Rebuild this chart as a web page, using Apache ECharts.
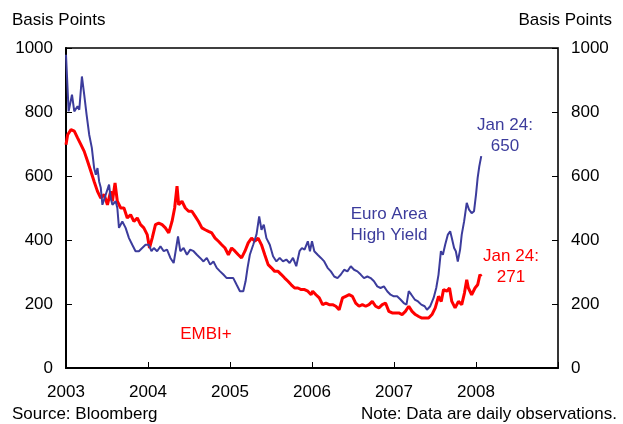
<!DOCTYPE html>
<html>
<head>
<meta charset="utf-8">
<script src="https://cdn.jsdelivr.net/npm/echarts@6/dist/echarts.min.js"></script>
<style>
  html, body { margin: 0; padding: 0; background: #fff; }
  #chart { width: 623px; height: 424px; }
</style>
</head>
<body>
<div id="chart"></div>
<script>
// decimal years
const yearTicks = [2003, 2004, 2005, 2006, 2007, 2008];
const valueTicks = [0, 200, 400, 600, 800, 1000];

const hyYears = [
  2003.000, 2003.032, 2003.073, 2003.101, 2003.141, 2003.162, 2003.194, 2003.222, 2003.251, 2003.283,
  2003.315, 2003.343, 2003.364, 2003.384, 2003.404, 2003.424, 2003.444, 2003.485, 2003.525, 2003.545,
  2003.566, 2003.606, 2003.626, 2003.646, 2003.687, 2003.727, 2003.768, 2003.808, 2003.848, 2003.889,
  2003.929, 2003.970, 2004.010, 2004.042, 2004.071, 2004.111, 2004.152, 2004.192, 2004.232, 2004.273,
  2004.313, 2004.366, 2004.394, 2004.434, 2004.475, 2004.515, 2004.556, 2004.596, 2004.636, 2004.677,
  2004.717, 2004.758, 2004.798, 2004.838, 2004.879, 2004.919, 2004.960, 2005.000, 2005.040, 2005.081,
  2005.121, 2005.162, 2005.190, 2005.214, 2005.242, 2005.283, 2005.323, 2005.356, 2005.384, 2005.412,
  2005.444, 2005.485, 2005.525, 2005.566, 2005.606, 2005.646, 2005.687, 2005.727, 2005.768, 2005.808,
  2005.848, 2005.877, 2005.909, 2005.949, 2005.975, 2006.000, 2006.028, 2006.069, 2006.109, 2006.149,
  2006.190, 2006.230, 2006.271, 2006.311, 2006.352, 2006.392, 2006.432, 2006.473, 2006.513, 2006.554,
  2006.594, 2006.634, 2006.675, 2006.715, 2006.756, 2006.796, 2006.836, 2006.877, 2006.917, 2006.958,
  2006.998, 2007.038, 2007.079, 2007.119, 2007.152, 2007.180, 2007.212, 2007.253, 2007.293, 2007.333,
  2007.374, 2007.402, 2007.442, 2007.483, 2007.515, 2007.543, 2007.572, 2007.596, 2007.624, 2007.657,
  2007.685, 2007.705, 2007.733, 2007.754, 2007.778, 2007.806, 2007.826, 2007.855, 2007.887, 2007.915,
  2007.947, 2007.976, 2008.000, 2008.020, 2008.040, 2008.064
];
const hyValues = [
  979, 802, 854, 802, 818, 807, 911, 854, 792, 729,
  688, 625, 604, 625, 583, 563, 510, 542, 573, 531,
  510, 521, 500, 438, 458, 438, 406, 385, 365, 365,
  375, 385, 385, 365, 375, 365, 380, 365, 370, 344,
  328, 411, 365, 375, 354, 370, 365, 354, 344, 333,
  344, 323, 333, 313, 302, 292, 281, 281, 281, 260,
  240, 240, 271, 313, 354, 385, 417, 474, 432, 448,
  406, 385, 349, 333, 344, 333, 339, 328, 344, 318,
  365, 375, 370, 396, 365, 396, 365, 354, 344, 333,
  313, 302, 286, 281, 292, 307, 302, 318, 307, 302,
  292, 281, 286, 281, 271, 255, 250, 255, 240, 229,
  224, 224, 214, 203, 198, 240, 229, 214, 208, 198,
  193, 182, 193, 219, 250, 292, 365, 354, 385, 417,
  427, 406, 375, 365, 333, 370, 417, 458, 516, 495,
  484, 490, 542, 594, 630, 662
];

const embiYears = [
  2003.000, 2003.020, 2003.061, 2003.081, 2003.101, 2003.141, 2003.182, 2003.222, 2003.263, 2003.303,
  2003.343, 2003.384, 2003.424, 2003.465, 2003.505, 2003.545, 2003.566, 2003.598, 2003.626, 2003.667,
  2003.707, 2003.747, 2003.788, 2003.828, 2003.869, 2003.909, 2003.949, 2003.990, 2004.018, 2004.051,
  2004.091, 2004.131, 2004.172, 2004.212, 2004.253, 2004.293, 2004.325, 2004.354, 2004.374, 2004.414,
  2004.455, 2004.495, 2004.535, 2004.576, 2004.616, 2004.657, 2004.697, 2004.737, 2004.778, 2004.818,
  2004.859, 2004.899, 2004.939, 2004.980, 2005.020, 2005.061, 2005.101, 2005.141, 2005.182, 2005.222,
  2005.263, 2005.303, 2005.343, 2005.384, 2005.424, 2005.465, 2005.505, 2005.545, 2005.586, 2005.626,
  2005.667, 2005.707, 2005.747, 2005.788, 2005.828, 2005.869, 2005.909, 2005.949, 2005.990, 2006.008,
  2006.048, 2006.089, 2006.129, 2006.170, 2006.210, 2006.251, 2006.291, 2006.331, 2006.372, 2006.412,
  2006.453, 2006.493, 2006.533, 2006.574, 2006.614, 2006.655, 2006.695, 2006.735, 2006.776, 2006.816,
  2006.857, 2006.897, 2006.937, 2006.978, 2007.018, 2007.059, 2007.099, 2007.139, 2007.180, 2007.220,
  2007.261, 2007.301, 2007.341, 2007.382, 2007.422, 2007.463, 2007.503, 2007.543, 2007.576, 2007.604,
  2007.644, 2007.677, 2007.705, 2007.745, 2007.786, 2007.826, 2007.859, 2007.887, 2007.907, 2007.947,
  2007.988, 2008.020, 2008.048, 2008.064
];
const embiValues = [
  698, 729, 745, 750, 740, 719, 698, 677, 646, 615,
  583, 552, 531, 542, 510, 552, 521, 578, 521, 500,
  500, 469, 479, 458, 469, 448, 438, 417, 375, 406,
  448, 453, 448, 438, 422, 458, 500, 568, 510, 521,
  500, 490, 490, 474, 458, 438, 432, 427, 422, 406,
  396, 385, 375, 354, 375, 365, 354, 344, 365, 391,
  406, 396, 406, 385, 354, 323, 313, 302, 302, 292,
  281, 271, 260, 250, 250, 245, 245, 240, 229, 240,
  229, 219, 198, 203, 198, 198, 193, 182, 219, 224,
  229, 224, 203, 193, 198, 193, 198, 208, 193, 188,
  198, 203, 177, 172, 172, 172, 167, 177, 193, 177,
  167, 161, 156, 156, 156, 167, 188, 224, 208, 245,
  240, 250, 208, 188, 208, 198, 234, 276, 250, 229,
  250, 260, 292, 286
];

const blue = '#3c3c9c';
const red = '#ff0000';
const font = 'Liberation Sans, Arial, sans-serif';
const fs = 17;

function pairs(xs, ys) {
  return xs.map((x, i) => [x, ys[i]]);
}

const chart = echarts.init(document.getElementById('chart'));

const yAxisBase = {
  type: 'value',
  min: valueTicks[0],
  max: valueTicks[valueTicks.length - 1],
  interval: 200,
  splitLine: { show: false },
  axisTick: { show: true, inside: true, length: 6, lineStyle: { color: '#000', width: 1 } },
  axisLabel: { color: '#000', fontSize: fs, fontFamily: font, margin: 13, formatter: v => String(v) }
};

const option = {
  animation: false,
  backgroundColor: '#fff',
  grid: {
    left: 66, right: 65, top: 48, bottom: 56,
    show: true, borderColor: '#000', borderWidth: 1.5, backgroundColor: 'transparent'
  },
  xAxis: {
    type: 'value',
    min: 2003,
    max: 2009,
    interval: 1,
    splitLine: { show: false },
    axisLine: { lineStyle: { color: '#000', width: 2 } },
    axisTick: { inside: true, length: 6, lineStyle: { color: '#000', width: 1 } },
    axisLabel: {
      color: '#000', fontSize: fs, fontFamily: font, margin: 16,
      formatter: v => (yearTicks.indexOf(v) >= 0 ? String(v) : '')
    }
  },
  yAxis: [
    Object.assign({}, yAxisBase, {
      position: 'left',
      axisLine: { show: true, lineStyle: { color: '#000', width: 2 } }
    }),
    Object.assign({}, yAxisBase, {
      position: 'right',
      axisLine: { show: true, lineStyle: { color: '#333', width: 1.5 } }
    })
  ],
  series: [
    {
      name: 'Euro Area High Yield',
      type: 'line',
      data: pairs(hyYears, hyValues),
      showSymbol: false,
      lineStyle: { color: blue, width: 2 },
      z: 3
    },
    {
      name: 'EMBI+',
      type: 'line',
      data: pairs(embiYears, embiValues),
      showSymbol: false,
      lineStyle: { color: red, width: 3 },
      z: 2
    }
  ],
  graphic: [
    { type: 'text', left: 12, top: 12, style: { text: 'Basis Points', fill: '#000', font: fs + 'px ' + font } },
    { type: 'text', right: 11, top: 12, style: { text: 'Basis Points', fill: '#000', font: fs + 'px ' + font } },
    { type: 'text', left: 12, top: 406, style: { text: 'Source: Bloomberg', fill: '#000', font: fs + 'px ' + font } },
    { type: 'text', right: 6, top: 406, style: { text: 'Note: Data are daily observations.', fill: '#000', font: fs + 'px ' + font } },
    { type: 'text', x: 389, y: 204, style: { text: 'Euro Area\nHigh Yield', fill: blue, font: fs + 'px ' + font, align: 'center', lineHeight: 21 } },
    { type: 'text', x: 505, y: 115, style: { text: 'Jan 24:\n650', fill: blue, font: fs + 'px ' + font, align: 'center', lineHeight: 21 } },
    { type: 'text', x: 511, y: 246, style: { text: 'Jan 24:\n271', fill: red, font: fs + 'px ' + font, align: 'center', lineHeight: 21 } },
    { type: 'text', x: 206, y: 326, style: { text: 'EMBI+', fill: red, font: fs + 'px ' + font, align: 'center' } }
  ]
};

chart.setOption(option);
</script>
</body>
</html>
